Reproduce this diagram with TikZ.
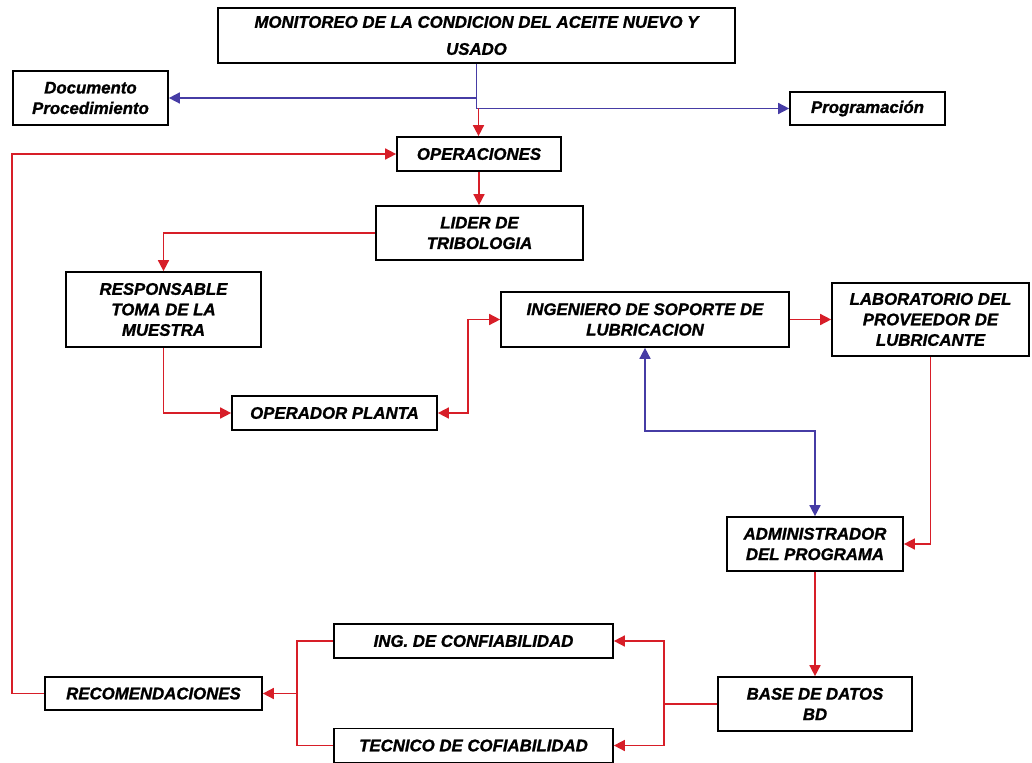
\documentclass[tikz,border=0pt]{standalone}
\usepackage{fontspec}
\setmainfont{Liberation Sans}[BoldItalicFeatures={FakeBold=1.2}]
\usetikzlibrary{arrows.meta}
\definecolor{lred}{RGB}{215,30,40}
\definecolor{lblue}{RGB}{70,60,165}
\begin{document}
\begin{tikzpicture}[x=1pt,y=-1pt,
  box/.style={draw=black, line width=1.7pt, fill=white, align=center, inner sep=0pt,
    font=\fontsize{16.8}{20.5}\selectfont\bfseries\itshape},
  rl/.style={draw=lred, line width=1.6pt},
  bl/.style={draw=lblue, line width=1.6pt},
  >={Triangle[length=11pt,width=11pt]}]
\useasboundingbox (0,0) rectangle (1032,762);
\fill[white] (0,0) rectangle (1032,762);
% nodes
\node[box, minimum width=517pt, minimum height=55pt, font=\fontsize{16.8}{27}\selectfont\bfseries\itshape] (mon) at (476.5,35.5) {MONITOREO DE LA CONDICION DEL ACEITE NUEVO Y\\USADO};
\node[box, minimum width=155pt, minimum height=54pt] (doc) at (90.5,98) {Documento\\Procedimiento};
\node[box, minimum width=155pt, minimum height=33pt] (prog) at (867.5,108.5) {Programación};
\node[box, minimum width=164pt, minimum height=34pt] (ope) at (479,154) {OPERACIONES};
\node[box, minimum width=207pt, minimum height=54pt] (lid) at (479.5,233) {LIDER DE\\TRIBOLOGIA};
\node[box, minimum width=195pt, minimum height=75pt] (res) at (163.5,309.5) {RESPONSABLE\\TOMA DE LA\\MUESTRA};
\node[box, minimum width=205pt, minimum height=34pt] (opp) at (334.5,413) {OPERADOR PLANTA};
\node[box, minimum width=288pt, minimum height=55pt] (ing) at (645,319.5) {INGENIERO DE SOPORTE DE\\LUBRICACION};
\node[box, minimum width=197pt, minimum height=73pt] (lab) at (930.5,319.5) {LABORATORIO DEL\\PROVEEDOR DE\\LUBRICANTE};
\node[box, minimum width=176pt, minimum height=54pt] (adm) at (815,544) {ADMINISTRADOR\\DEL PROGRAMA};
\node[box, minimum width=194pt, minimum height=54pt] (bd) at (815,704) {BASE DE DATOS\\BD};
\node[box, minimum width=279pt, minimum height=34pt] (ic) at (473.5,641) {ING. DE CONFIABILIDAD};
\node[box, minimum width=279pt, minimum height=34pt] (tc) at (473.5,745.5) {TECNICO DE COFIABILIDAD};
\node[box, minimum width=217pt, minimum height=33pt] (rec) at (153.5,693.5) {RECOMENDACIONES};
% coordinates
\coordinate (jb) at (478.5,108.5);
\coordinate (bk) at (645,431);
\coordinate (jc) at (298,693.5);
% connectors
\draw[bl,->] (mon.south) |- (doc.east);
\draw[bl,->] (mon.south) |- (prog.west);
\draw[rl,->] (jb) -- (jb |- ope.north);
\draw[rl,->] (ope.south) -- (ope.south |- lid.north);
\draw[rl,->] (lid.west) -| (res.north);
\draw[rl,->] (res.south) |- (opp.west);
\draw[rl,<->] (opp.east) -- ++(30,0) |- (ing.west);
\draw[rl,->] (ing.east) -- (lab.west);
\draw[bl,<->] (ing.south) -- (bk) -| (adm.north);
\draw[rl,->] (lab.south) |- (adm.east);
\draw[rl,->] (adm.south) -- (bd.north);
\draw[rl,->] (bd.west) -- ++(-53,0) |- (ic.east);
\draw[rl,->] (bd.west) -- ++(-53,0) |- (tc.east);
\draw[rl] (ic.west) -- ++(-36,0) |- (tc.west);
\draw[rl,->] (jc) -- (rec.east);
\draw[rl,->] (rec.west) -- ++(-32,0) |- (ope.west);
\end{tikzpicture}
\end{document}
